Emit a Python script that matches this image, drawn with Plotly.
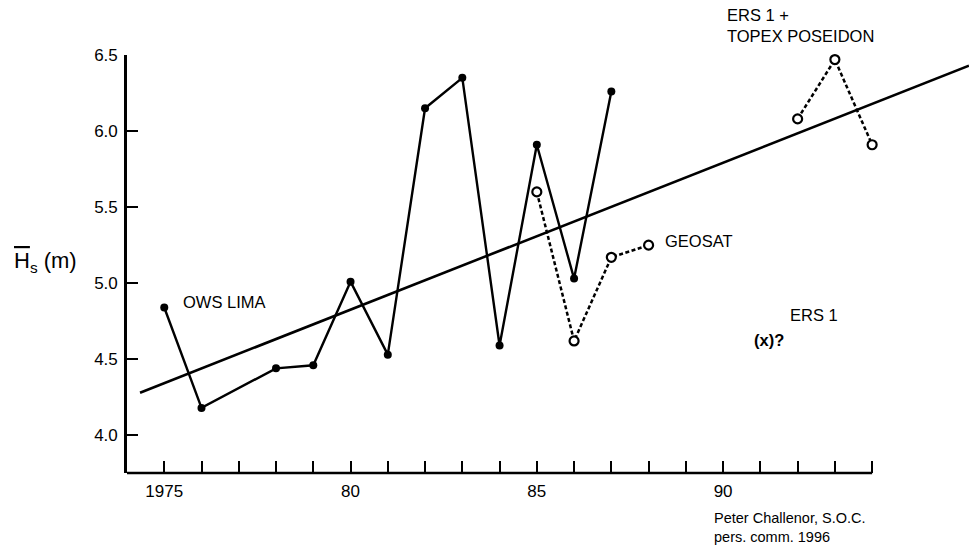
import plotly.graph_objects as go

# Mean significant wave height, NE Atlantic
lima_years = [1975, 1976, 1978, 1979, 1980, 1981, 1982, 1983, 1984, 1985, 1986, 1987]
lima_hs = [4.84, 4.18, 4.44, 4.46, 5.01, 4.53, 6.15, 6.35, 4.59, 5.91, 5.03, 6.26]

geosat_years = [1985, 1986, 1987, 1988]
geosat_hs = [5.60, 4.62, 5.17, 5.25]

ers_years = [1992, 1993, 1994]
ers_hs = [6.08, 6.47, 5.91]

trend_years = [1974.35, 1996.6]
trend_hs = [4.28, 6.43]

label_years = [1975, 1980, 1985, 1990]
label_text = ["1975", "80", "85", "90"]
minor_years = [y for y in range(1976, 1995) if y not in label_years]
y_ticks = [4.0, 4.5, 5.0, 5.5, 6.0, 6.5]

FONT = "Liberation Sans, Arial, Helvetica, sans-serif"

fig = go.Figure()

fig.add_trace(go.Scatter(
    x=trend_years, y=trend_hs, mode="lines",
    line=dict(color="black", width=2.6), cliponaxis=False, showlegend=False,
))
fig.add_trace(go.Scatter(
    x=lima_years, y=lima_hs, mode="lines+markers",
    line=dict(color="black", width=2.4),
    marker=dict(symbol="circle", size=8, color="black"),
    cliponaxis=False, showlegend=False,
))
for xs, ys in ((geosat_years, geosat_hs), (ers_years, ers_hs)):
    fig.add_trace(go.Scatter(
        x=xs, y=ys, mode="lines+markers",
        line=dict(color="black", width=2.5, dash="4px,2.5px"),
        marker=dict(symbol="circle", size=9, color="white",
                    line=dict(color="black", width=2.2)),
        cliponaxis=False, showlegend=False,
    ))

# x axis baseline stops at 1994; the trend line runs on past it
fig.add_shape(type="line", xref="x", yref="paper", x0=1974, x1=1994, y0=0, y1=0,
              line=dict(color="black", width=2.6))

annots = [
    dict(x=1975.45, y=4.876, text="OWS LIMA"),
    dict(x=1988.38, y=5.275, text="GEOSAT"),
    dict(x=1991.75, y=4.788, text="ERS 1"),
    dict(x=1990.77, y=4.629, text="<b>(x)?</b>"),
]
for a in annots:
    fig.add_annotation(xref="x", yref="y", showarrow=False, xanchor="left",
                       yanchor="middle",
                       font=dict(family=FONT, size=16.5, color="black"), **a)

fig.add_annotation(xref="x", yref="paper", x=1990.05, y=1.0697, showarrow=False,
                   xanchor="left", yanchor="middle", align="left",
                   text="ERS 1 +<br>TOPEX POSEIDON",
                   font=dict(family=FONT, size=16.5, color="black"))

fig.add_annotation(xref="x", yref="paper", x=1989.70, y=-0.130, showarrow=False,
                   xanchor="left", yanchor="middle", align="left",
                   text="Peter Challenor, S.O.C.<br>pers. comm. 1996",
                   font=dict(family=FONT, size=14.5, color="black"))

fig.add_annotation(xref="paper", yref="paper", x=-0.137, y=0.505, showarrow=False,
                   xanchor="left", yanchor="middle",
                   text="<span style='text-decoration:overline'>H</span><sub>s</sub> (m)",
                   font=dict(family=FONT, size=22, color="black"))

fig.update_layout(
    width=969, height=550,
    margin=dict(l=127, r=0, t=55, b=77),
    paper_bgcolor="white", plot_bgcolor="white",
    font=dict(family=FONT, size=16.5, color="black"),
    xaxis=dict(
        range=[1974, 1996.6], showgrid=False, zeroline=False, showline=False,
        tickmode="array", tickvals=label_years, ticktext=label_text,
        tickfont=dict(size=17),
        ticks="inside", ticklen=12, tickwidth=2, tickcolor="black",
        ticklabelstandoff=6,
        minor=dict(tickmode="array", tickvals=minor_years, ticks="inside",
                   ticklen=12, tickwidth=2, tickcolor="black", showgrid=False),
    ),
    yaxis=dict(
        range=[3.752, 6.5], showgrid=False, zeroline=False,
        showline=True, linecolor="black", linewidth=2.6,
        tickmode="array", tickvals=y_ticks, ticktext=[f"{v:.1f}" for v in y_ticks],
        tickfont=dict(size=17), ticklabelstandoff=3,
        ticks="inside", ticklen=11, tickwidth=2, tickcolor="black",
    ),
)

fig.write_html("out.html")
